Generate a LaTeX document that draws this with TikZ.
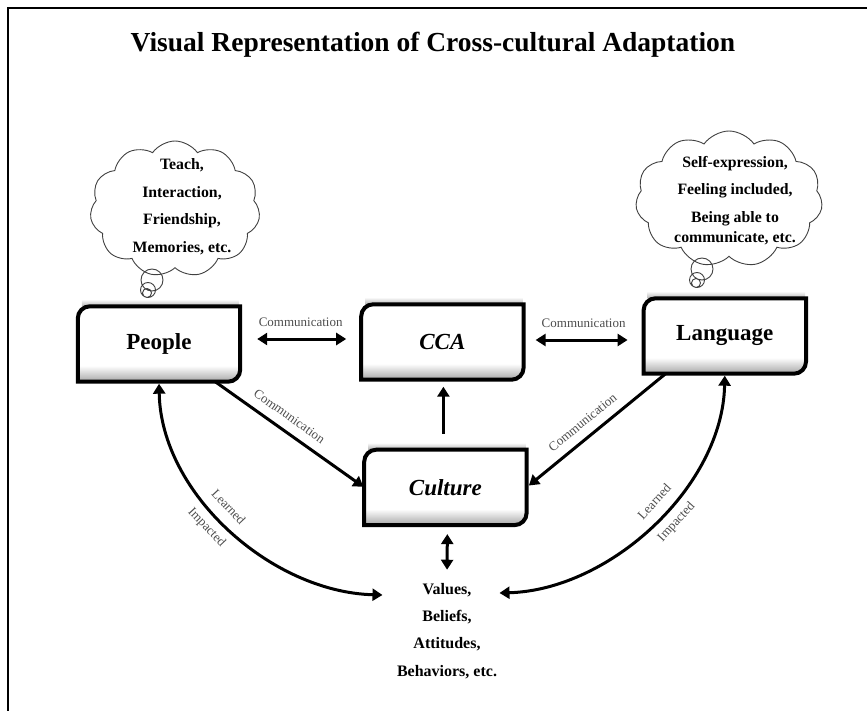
\documentclass[tikz,border=0pt]{standalone}
\usepackage{fontspec}
\setmainfont{Liberation Serif}
\usetikzlibrary{arrows.meta, positioning, shapes.symbols, backgrounds}

% frame with round top-left and bottom-right corners
\newcommand{\framepath}[1]{(#1.north east) -- ([yshift=12pt]#1.south east) .. controls ([yshift=5.4pt]#1.south east) and ([xshift=-5.4pt]#1.south east) .. ([xshift=-12pt]#1.south east) -- (#1.south west) -- ([yshift=-12pt]#1.north west) .. controls ([yshift=-5.4pt]#1.north west) and ([xshift=5.4pt]#1.north west) .. ([xshift=12pt]#1.north west) -- cycle}
\newcommand{\conceptframe}[1]{%
  \begin{pgfonlayer}{background}
    \shade[top color=white, bottom color=black!30] ([xshift=4pt]#1.north west) rectangle ([xshift=-1pt, yshift=7pt]#1.north east);
    \begin{scope}
      \clip \framepath{#1};
      \shade[top color=white, bottom color=black!35] ([yshift=16pt]#1.south west) rectangle (#1.south east);
    \end{scope}
  \end{pgfonlayer}
  \draw[line width=4pt] \framepath{#1};
}

\begin{document}
\begin{tikzpicture}[x=1pt, y=-1pt, >={Triangle[length=10pt, width=12pt]}]

    % Define block styles
    \tikzstyle{block} = [rectangle, minimum width=162pt, minimum height=75pt, inner sep=0pt,
        font=\fontsize{23}{26}\selectfont\bfseries]
    \tikzstyle{line} = [draw, line width=3pt, ->]
    \tikzstyle{biline} = [draw, line width=3pt, <->]
    \tikzstyle{edgelabel} = [font=\fontsize{13}{15}\selectfont, text=black!70, inner sep=2pt]
    \tikzstyle{thought} = [cloud, draw=black!75, line width=0.9pt, cloud puffs=11, cloud puff arc=110,
        cloud ignores aspect, inner sep=0pt]
    \tikzstyle{bubble} = [draw=black!75, line width=0.9pt]
    \tikzstyle{notes} = [align=center, font=\fontsize{15.8}{27.5}\selectfont\bfseries]

    \useasboundingbox (0,0) rectangle (867,711);
    \draw[line width=2pt] (8,711) -- (8,8) -- (867,8);

    % Define nodes
    \node [font=\fontsize{27.5}{31}\selectfont\bfseries] (title) at (433,45) {Visual Representation of Cross-cultural Adaptation};
    \node [block] (people) at (159,344) {People};
    \node [block, right=121pt of people, yshift=2pt] (cca) {\itshape CCA};
    \node [block, right=120pt of cca, yshift=6pt] (language) {Language};
    \node [block, below=70pt of cca, xshift=3pt] (culture) {\itshape Culture};
    \node [notes, font=\fontsize{16}{27.3}\selectfont\bfseries] (values) at (447,631) {Values,\\Beliefs,\\Attitudes,\\Behaviors, etc.};

    \conceptframe{people}
    \conceptframe{cca}
    \conceptframe{language}
    \conceptframe{culture}

    % thought clouds
    \node [thought, minimum width=170pt, minimum height=136pt] (peoplecloud) at (175,209) {};
    \node [notes] (peoplenotes) at (182,206.5) {Teach,\\Interaction,\\Friendship,\\Memories, etc.};
    \draw [bubble] (152,280) circle[radius=11] (148,290) circle[radius=7.5] (147,293) circle[radius=4.5];
    \node [thought, minimum width=187pt, minimum height=136pt] (languagecloud) at (729,199) {};
    \node [notes, font=\fontsize{15.8}{20.5}\selectfont\bfseries] (languagenotes) at (735,200.5) {Self-expression,\\[7pt]Feeling included,\\[7pt]Being able to\\communicate, etc.};
    \draw [bubble] (702,269) circle[radius=11] (697,280) circle[radius=7.5] (696,283) circle[radius=4.5];

    % Draw edges
    \path [biline, shorten <=17pt, shorten >=15pt] ([yshift=5pt]people.east) -- node [edgelabel, above=9pt] {Communication} ([yshift=3pt]cca.west);
    \path [biline, shorten <=12pt, shorten >=16pt] ([yshift=2pt]cca.east) -- node [edgelabel, above=9pt] {Communication} ([yshift=-4pt]language.west);
    \path [line, shorten <=16pt, shorten >=7pt] ([xshift=-2pt]culture.north) -- ([xshift=1pt]cca.south);
    \path [line, shorten >=1pt] ([xshift=-25pt]people.south east) -- node [edgelabel, sloped, pos=0.44, above=7pt] {Communication} (culture.west);
    \path [line, shorten >=3pt] ([xshift=22pt]language.south west) -- node [edgelabel, sloped, pos=0.53, above=7pt] {Communication} (culture.east);
    \path [biline, shorten <=9pt, shorten >=10pt] ([xshift=2pt]culture.south) -- (values.north);
    \path [biline, shorten <=2pt] (people.south) .. controls +(2,112) and +(-111,-3) .. ([xshift=-11pt, yshift=36pt]values.west)
        node [edgelabel, sloped, pos=0.45, above=7pt] {Learned}
        node [edgelabel, sloped, pos=0.45, below=6pt] {Impacted};
    \path [biline, shorten <=2pt] (language.south) .. controls +(-2,112) and +(111,-3) .. ([xshift=-1pt, yshift=38pt]values.east)
        node [edgelabel, sloped, pos=0.45, above=7pt] {Learned}
        node [edgelabel, sloped, pos=0.45, below=6pt] {Impacted};

\end{tikzpicture}
\end{document}
